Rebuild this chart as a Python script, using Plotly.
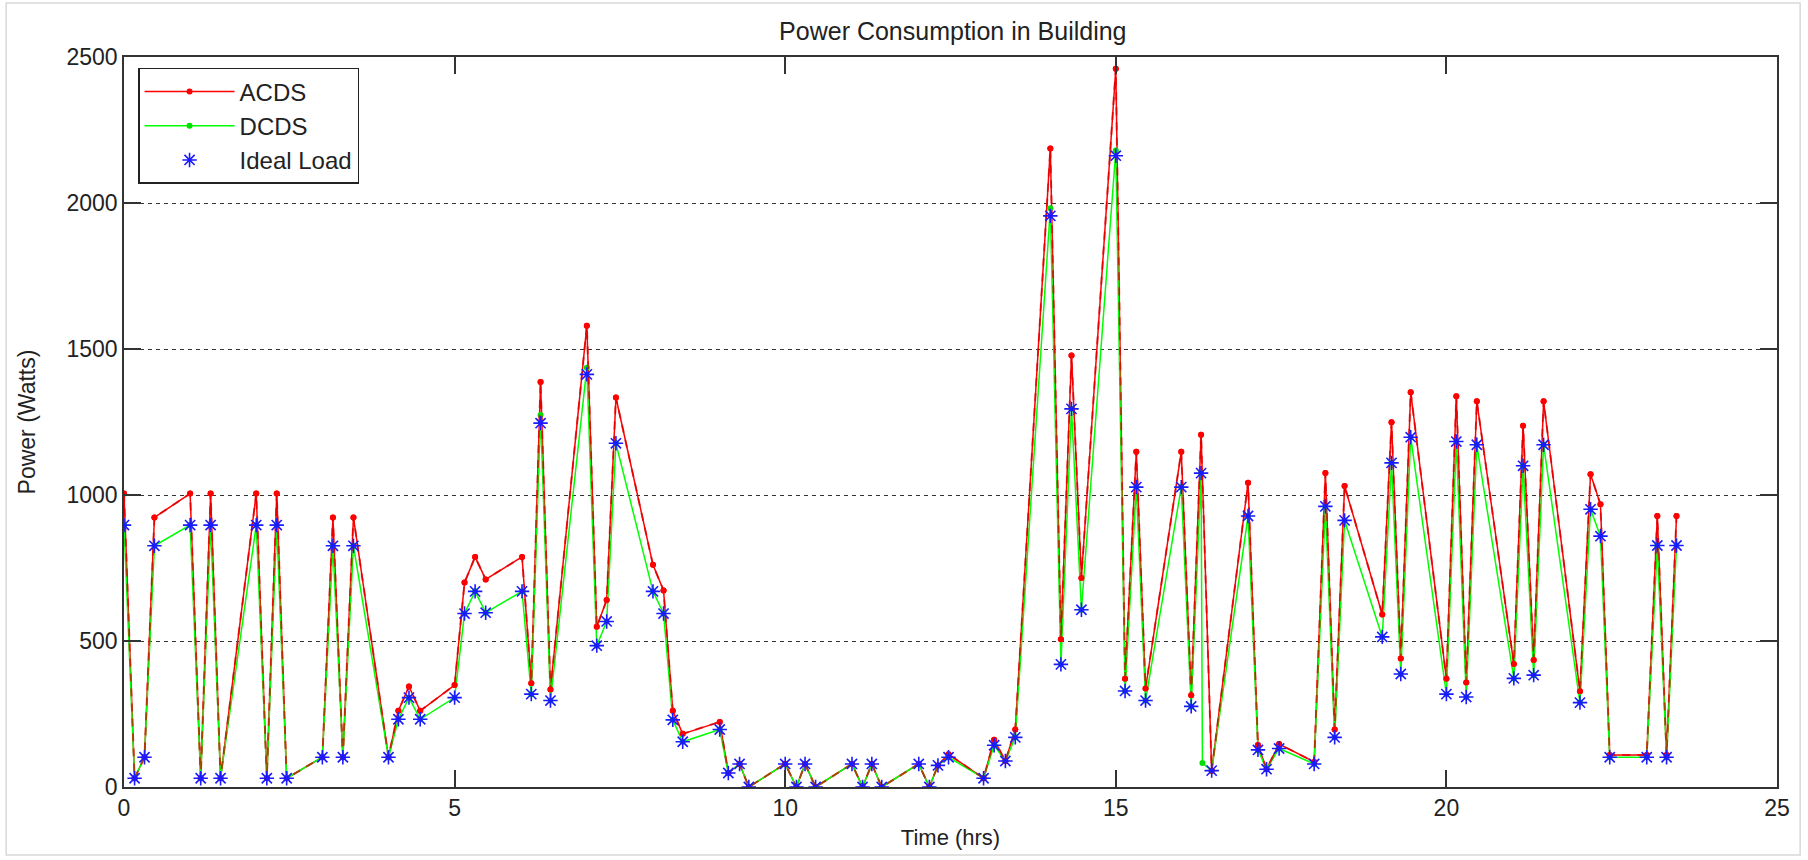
import plotly.graph_objects as go

# Time of each sample (hours)
time_hrs = [
    0.00, 0.16, 0.31, 0.46, 1.00, 1.16, 1.31, 1.46, 2.00, 2.16, 2.31, 2.46,
    3.00, 3.16, 3.31, 3.47, 4.00, 4.15, 4.31, 4.48, 5.00, 5.15, 5.31, 5.47,
    6.02, 6.16, 6.30, 6.45, 7.00, 7.15, 7.30, 7.44, 8.00, 8.16, 8.30, 8.45,
    9.01, 9.14, 9.31, 9.45, 10.00, 10.17, 10.30, 10.46, 11.01, 11.17, 11.31, 11.46,
    12.02, 12.18, 12.31, 12.47, 13.00, 13.16, 13.33, 13.48, 14.01, 14.17, 14.33, 14.48,
    15.00, 15.14, 15.31, 15.45, 15.99, 16.14, 16.29, 16.45, 17.00, 17.15, 17.28, 17.47,
    18.00, 18.17, 18.31, 18.46, 19.03, 19.17, 19.31, 19.46, 20.00, 20.15, 20.30, 20.46,
    21.02, 21.16, 21.32, 21.47, 22.02, 22.18, 22.33, 22.47, 23.03, 23.19, 23.33, 23.48,
]

acds = [
    1005, 30, 102, 923, 1005, 30, 1005, 30, 1005, 30, 1005, 30,
    102, 923, 102, 923, 102, 261, 344, 261, 349, 700, 788, 711,
    788, 355, 1387, 334, 1580, 549, 640, 1334, 761, 673, 261, 182,
    223, 48, 79, 0, 79, 0, 79, 0, 79, 0, 79, 0,
    79, 0, 74, 112, 30, 162, 89, 197, 2187, 506, 1478, 716,
    2460, 371, 1148, 337, 1148, 314, 1206, 56, 1042, 144, 61, 147,
    86, 1075, 197, 1031, 591, 1249, 440, 1352, 371, 1338, 358, 1321,
    421, 1237, 435, 1321, 328, 1071, 968, 110, 110, 928, 110, 928,
]

ideal_load = [
    897, 30, 102, 826, 897, 30, 897, 30, 897, 30, 897, 30,
    102, 826, 102, 826, 102, 232, 306, 232, 306, 594, 670, 597,
    670, 318, 1246, 296, 1413, 484, 567, 1177, 670, 594, 230, 155,
    197, 48, 79, 0, 79, 0, 79, 0, 79, 0, 79, 0,
    79, 0, 74, 102, 30, 143, 89, 170, 1956, 420, 1295, 607,
    2162, 329, 1027, 296, 1027, 276, 1075, 56, 928, 127, 61, 132,
    79, 961, 170, 913, 514, 1110, 387, 1198, 318, 1183, 308, 1172,
    372, 1100, 383, 1172, 289, 951, 859, 102, 102, 827, 102, 827,
]

dcds = [
    897, 30, 102, 826, 897, 30, 897, 30, 897, 30, 897, 30,
    102, 826, 102, 826, 102, 232, 306, 232, 306, 594, 670, 597,
    670, 318, 1274, 296, 1436, 484, 567, 1177, 670, 594, 230, 155,
    197, 48, 79, 0, 79, 0, 79, 0, 79, 0, 79, 0,
    79, 0, 74, 102, 30, 143, 89, 170, 1982, 420, 1295, 607,
    2180, 329, 1027, 296, 1027, 276, 1075, 56, 928, 127, 61, 132,
    79, 961, 170, 913, 514, 1110, 387, 1198, 318, 1183, 308, 1172,
    372, 1100, 383, 1172, 289, 951, 859, 102, 102, 827, 102, 827,
]

# extra DCDS sample (drop near 16.3 h)
dcds_extra_time = [16.31]
dcds_extra_value = [82]

x_ticks = [0, 5, 10, 15, 20, 25]
y_ticks = [0, 500, 1000, 1500, 2000, 2500]

dc_pairs = sorted(list(zip(time_hrs, dcds)) + list(zip(dcds_extra_time, dcds_extra_value)),
                  key=lambda p: p[0])
dc_t = [p[0] for p in dc_pairs]
dc_v = [p[1] for p in dc_pairs]

FONT = "Liberation Sans, Arial, sans-serif"

fig = go.Figure()
fig.add_trace(go.Scatter(
    x=time_hrs, y=acds, name="ACDS", mode="lines+markers",
    line=dict(color="#ff0000", width=1.5),
    marker=dict(color="#ff0000", size=6, symbol="circle"),
))
fig.add_trace(go.Scatter(
    x=dc_t, y=dc_v, name="DCDS", mode="lines+markers",
    line=dict(color="#00ff00", width=1.5),
    marker=dict(color="#00e000", size=6, symbol="circle"),
))
fig.add_trace(go.Scatter(
    x=time_hrs, y=acds, name="ACDS", mode="lines+markers", showlegend=False,
    line=dict(color="rgba(220,0,0,0.7)", width=2, dash="8px,7px"),
    marker=dict(color="#ff0000", size=6, symbol="circle"),
    hoverinfo="skip",
))
fig.add_trace(go.Scatter(
    x=time_hrs, y=ideal_load, name="Ideal Load", mode="markers",
    marker=dict(symbol="asterisk-open", size=12, color="#1a1aff",
                line=dict(color="#1a1aff", width=1.6)),
))

axis_common = dict(
    showline=True, linecolor="#333333", linewidth=1.5, mirror="ticks",
    ticks="inside", ticklen=17, tickwidth=1.5, tickcolor="#333333",
    zeroline=False, automargin=False,
    tickfont=dict(family=FONT, size=23, color="#222222"),
)

fig.update_layout(
    width=1808, height=860,
    paper_bgcolor="white", plot_bgcolor="white",
    margin=dict(l=124, r=31, t=57, b=73),
    title=dict(text="Power Consumption in Building", x=0.527, xanchor="center",
               y=1 - 31 / 860, yanchor="middle",
               font=dict(family=FONT, size=25, color="#222222")),
    xaxis=dict(
        range=[0, 25], tickvals=x_ticks, showgrid=False,
        title=dict(text="Time (hrs)", font=dict(family=FONT, size=22, color="#222222"),
                   standoff=9),
        **axis_common,
    ),
    yaxis=dict(
        range=[0, 2500], tickvals=y_ticks, showgrid=True,
        gridcolor="#333333", gridwidth=1.3, griddash="4px,4px",
        title=dict(text="Power (Watts)", font=dict(family=FONT, size=23, color="#222222"),
                   standoff=24),
        **axis_common,
    ),
    legend=dict(
        x=0.0085, y=0.985, xanchor="left", yanchor="top",
        bgcolor="white", bordercolor="#222222", borderwidth=1.5,
        font=dict(family=FONT, size=24, color="#222222"),
        itemwidth=90, tracegroupgap=0,
    ),
    showlegend=True,
    shapes=[dict(type="rect", xref="paper", yref="paper",
                 x0=-0.0713, x1=1.0140, y0=-0.093, y1=1.074,
                 line=dict(color="#d8d8d8", width=1.5), layer="below")],
)

fig.write_html("out.html",
               config={"displayModeBar": False},
               post_script="document.body.style.margin='0';document.body.style.overflow='hidden';")
